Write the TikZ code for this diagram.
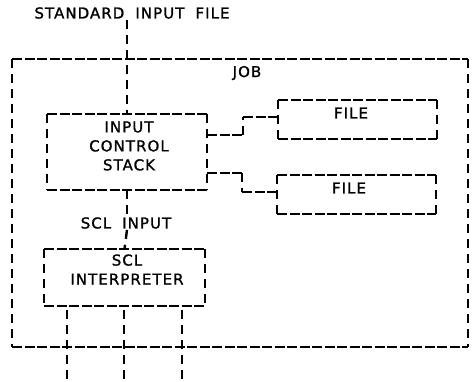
\documentclass[tikz,border=0pt]{standalone}
\usepackage{fontspec}
\setmainfont{DejaVu Sans}[LetterSpace=7,WordSpace=1.9,FakeBold=1.3]
\usetikzlibrary{calc}
\newcommand\asciibox[1]{%
  \draw[hl] (#1.north west) -- (#1.north east) (#1.south west) -- (#1.south east);
  \draw[vl] (#1.north west) -- (#1.south west) (#1.north east) -- (#1.south east);}
\begin{document}
\begin{tikzpicture}[x=1pt,y=-1pt,
  hl/.style={line width=2.1pt, dash pattern=on 10pt off 2.5pt},
  vl/.style={line width=2.4pt, dash pattern=on 9pt off 6pt},
  boxn/.style={inner sep=0pt, outer sep=0pt},
  txt/.style={inner sep=1pt, font=\fontsize{15pt}{19pt}\selectfont, align=center}]
\useasboundingbox (0,0) rectangle (472,382);
% boxes
\node[boxn, minimum width=456pt, minimum height=288pt] (JOB) at (240,203) {};
\node[boxn, minimum width=160pt, minimum height=76pt] (ICS) at (127,152) {};
\node[boxn, minimum width=159pt, minimum height=39pt] (FILE1) at (357.5,119.5) {};
\node[boxn, minimum width=159pt, minimum height=39pt] (FILE2) at (356.5,194.5) {};
\node[boxn, minimum width=161pt, minimum height=57pt] (SCL) at (124.5,277.5) {};
\asciibox{JOB}
\asciibox{ICS}
\asciibox{FILE1}
\asciibox{FILE2}
\asciibox{SCL}
% texts
\node[txt] (title) at (132,13) {STANDARD INPUT FILE};
\node[txt] (jobT) at (247,73) {JOB};
\node[txt] (icsT) at (129,146) {INPUT\\CONTROL\\STACK};
\node[txt] (f1T) at (351,113) {FILE};
\node[txt] (f2T) at (349,188) {FILE};
\node[txt] (sclT) at (127,269.5) {SCL\\INTERPRETER};
\node[txt] (sclin) at (126,223) {SCL INPUT};
% connectors
\draw[vl] (ICS.north |- title.south) -- (ICS.north);
\draw[vl] (ICS.south) -- (ICS.south |- sclin.north);
\draw[vl] (ICS.south |- sclin.south) -- (SCL.north);
\coordinate (u1) at ($(ICS.north east)+(36,21)$);
\coordinate (u2) at ($(FILE1.north west)+(-35,17)$);
\draw[hl] (ICS.east |- u1) -- (u1);
\draw[vl] (u1) -- (u2);
\draw[hl] (u2) -- (FILE1.west |- u2);
\coordinate (l1) at ($(ICS.north east)+(35,59)$);
\coordinate (l2) at ($(FILE2.north west)+(-35,17)$);
\draw[hl] (ICS.east |- l1) -- (l1);
\draw[vl] (l1) -- (l2);
\draw[hl] (l2) -- (FILE2.west |- l2);
\coordinate (o1) at (67,382);
\coordinate (o2) at (124,382);
\coordinate (o3) at (182,382);
\draw[vl] ($(SCL.south -| o1)+(0,4)$) -- (o1);
\draw[vl] ($(SCL.south -| o2)+(0,4)$) -- (o2);
\draw[vl] ($(SCL.south -| o3)+(0,4)$) -- (o3);
\end{tikzpicture}
\end{document}
